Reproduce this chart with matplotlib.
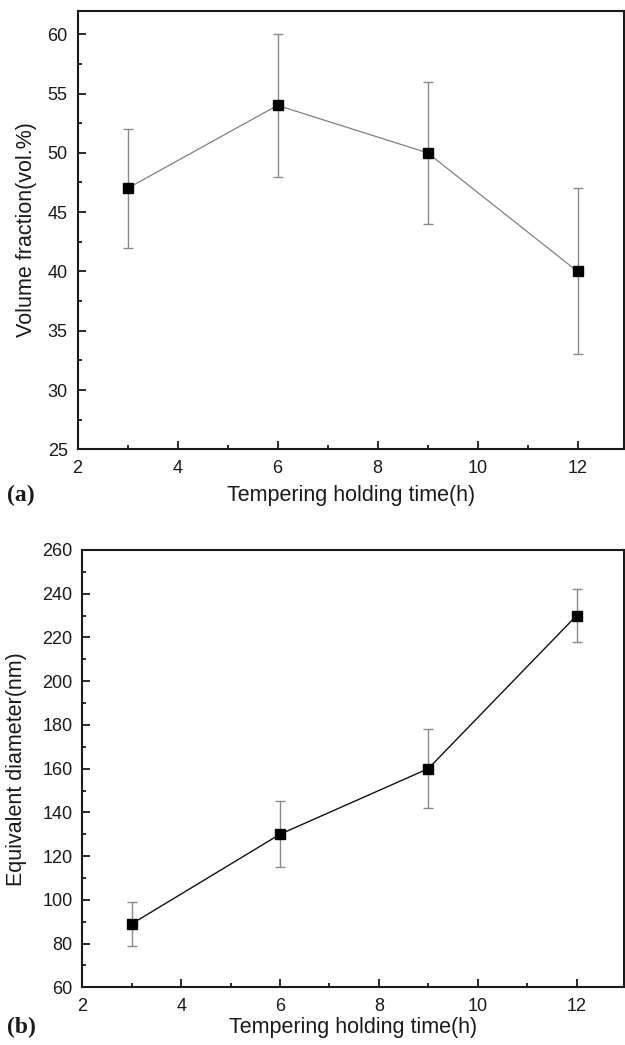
import matplotlib
matplotlib.use("Agg")
import matplotlib.pyplot as plt
from matplotlib.ticker import MultipleLocator

plt.rcParams['font.family'] = ['Liberation Sans', 'DejaVu Sans']

hours = [3, 6, 9, 12]
vol_frac = [47, 54, 50, 40]
vol_err = [5, 6, 6, 7]
diam = [89, 130, 160, 230]
diam_err = [10, 15, 18, 12]

fig = plt.figure(figsize=(6.25, 10.45), dpi=100)
W, H = 625, 1045

def make_ax(l, r, t, b):
    return fig.add_axes([l / W, 1 - b / H, (r - l) / W, (b - t) / H])

ax1 = make_ax(77.5, 624, 10.5, 449.3)
ax2 = make_ax(82.3, 624, 550, 987.3)

TXT = '#1a1a1a'

def style(ax, ymaj, ymin):
    ax.xaxis.set_major_locator(MultipleLocator(2))
    ax.xaxis.set_minor_locator(MultipleLocator(1))
    ax.yaxis.set_major_locator(MultipleLocator(ymaj))
    ax.yaxis.set_minor_locator(MultipleLocator(ymin))
    ax.tick_params(which='both', direction='in', top=False, right=False,
                   labelsize=13, width=1.3, colors=TXT)
    ax.tick_params(axis='x', which='major', pad=7.5)
    ax.tick_params(axis='y', which='major', pad=7)
    ax.tick_params(which='major', length=6)
    ax.tick_params(which='minor', length=3)
    for s in ax.spines.values():
        s.set_linewidth(1.5)
        s.set_color(TXT)
    ax.set_xlabel('Tempering holding time(h)', fontsize=15.5, color=TXT)

ax1.errorbar(hours, vol_frac, yerr=vol_err, fmt='-', color='#808080', lw=0.9,
             ecolor='#8a8a8a', elinewidth=1.0, capsize=3.3, capthick=1.0, zorder=2)
ax1.plot(hours, vol_frac, 's', color='black', ms=7, zorder=3)
ax1.set_xlim(2, 12.93)
ax1.set_ylim(25, 62)
style(ax1, 5, 2.5)
ax1.set_ylabel('Volume fraction(vol.%)', fontsize=15.5, color=TXT)
ax1.xaxis.set_label_coords(0.5, -0.0805)
ax1.yaxis.set_label_coords(-0.074, 0.5)

ax2.errorbar(hours, diam, yerr=diam_err, fmt='-', color='#111111', lw=1.0,
             ecolor='#8a8a8a', elinewidth=1.0, capsize=3.3, capthick=1.0, zorder=2)
ax2.plot(hours, diam, 's', color='black', ms=7, zorder=3)
ax2.set_xlim(2, 12.96)
ax2.set_ylim(60, 260)
style(ax2, 20, 10)
ax2.set_ylabel('Equivalent diameter(nm)', fontsize=15.5, color=TXT)
ax2.xaxis.set_label_coords(0.5, -0.068)
ax2.yaxis.set_label_coords(-0.102, 0.5)

fig.text(7 / W, 1 - 495 / H, '(a)', fontsize=17, fontweight='bold', color=TXT,
         family=['Liberation Serif', 'DejaVu Serif'], va='center', ha='left')
fig.text(7 / W, 1 - 1027 / H, '(b)', fontsize=17, fontweight='bold', color=TXT,
         family=['Liberation Serif', 'DejaVu Serif'], va='center', ha='left')

fig.savefig('out.png', dpi=100)
